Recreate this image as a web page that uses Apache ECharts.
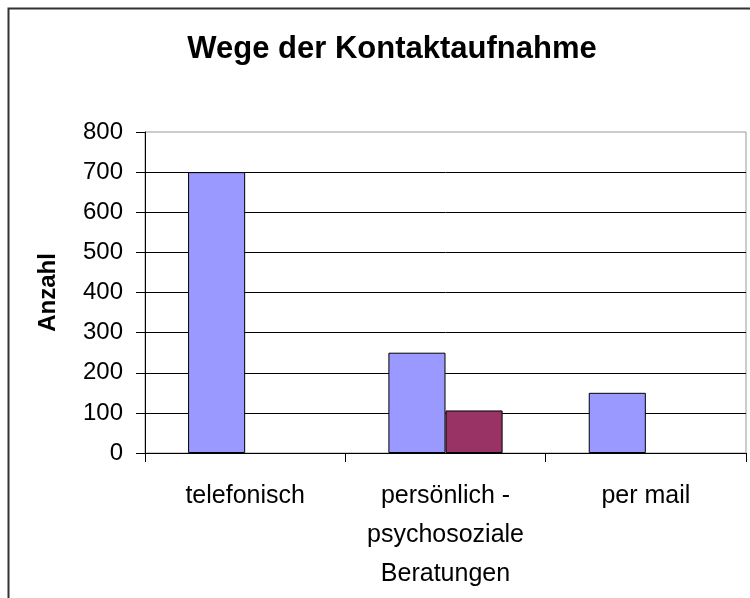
<!DOCTYPE html>
<html>
<head>
<meta charset="utf-8">
<script src="https://cdn.jsdelivr.net/npm/echarts@6/dist/echarts.min.js"></script>
<style>
  html, body { margin: 0; padding: 0; background: #fff; }
  #container { width: 750px; height: 598px; }
</style>
</head>
<body>
<div id="container"></div>
<script>
var categories = ["telefonisch", "persönlich -\npsychosoziale\nBeratungen", "per mail"];
var serie1 = [700, 250, 150];
var serie2 = [null, 106, null];
var yTicks = [0, 100, 200, 300, 400, 500, 600, 700, 800];

var dom = document.getElementById("container");
var myChart = echarts.init(dom, null, { renderer: "canvas" });

var option = {
  animation: false,
  textStyle: { fontFamily: "Liberation Sans, Arial, sans-serif" },
  title: {
    text: "Wege der Kontaktaufnahme",
    left: 387,
    top: 29,
    textAlign: "center",
    textStyle: { fontSize: 31, fontWeight: "bold", color: "#000" }
  },
  graphic: [
    {
      type: "rect",
      shape: { x: 8.5, y: 8.5, width: 800, height: 700 },
      style: { fill: null, stroke: "#333", lineWidth: 2 },
      silent: true
    }
  ],
  grid: {
    left: 145,
    right: 4,
    top: 132,
    bottom: 145,
    show: true,
    borderColor: "#999",
    borderWidth: 1,
    containLabel: false
  },
  xAxis: {
    type: "category",
    data: categories,
    axisLine: { lineStyle: { color: "#000", width: 1 } },
    axisTick: { show: true, length: 9, lineStyle: { color: "#000" } },
    axisLabel: {
      color: "#000",
      fontSize: 25,
      lineHeight: 39,
      margin: 24,
      interval: 0
    }
  },
  yAxis: {
    type: "value",
    min: yTicks[0],
    max: yTicks[yTicks.length - 1],
    interval: 100,
    name: "Anzahl",
    nameLocation: "middle",
    nameGap: 85,
    nameRotate: 90,
    nameTextStyle: { fontSize: 24, fontWeight: "bold", color: "#000" },
    axisLine: { show: true, lineStyle: { color: "#000" } },
    axisTick: { show: true, length: 9, lineStyle: { color: "#000" } },
    axisLabel: { color: "#000", fontSize: 24, margin: 22 },
    splitLine: { show: true, showMaxLine: false, lineStyle: { color: "#000", width: 1 } }
  },
  series: [
    {
      name: "Serie 1",
      type: "bar",
      data: serie1,
      barGap: "0%",
      barCategoryGap: "43%",
      itemStyle: { color: "#9999FF", borderColor: "#000", borderWidth: 1 }
    },
    {
      name: "Serie 2",
      type: "bar",
      data: serie2,
      itemStyle: { color: "#993366", borderColor: "#000", borderWidth: 1 }
    }
  ]
};

myChart.setOption(option);
window.addEventListener("resize", myChart.resize);
</script>
</body>
</html>
